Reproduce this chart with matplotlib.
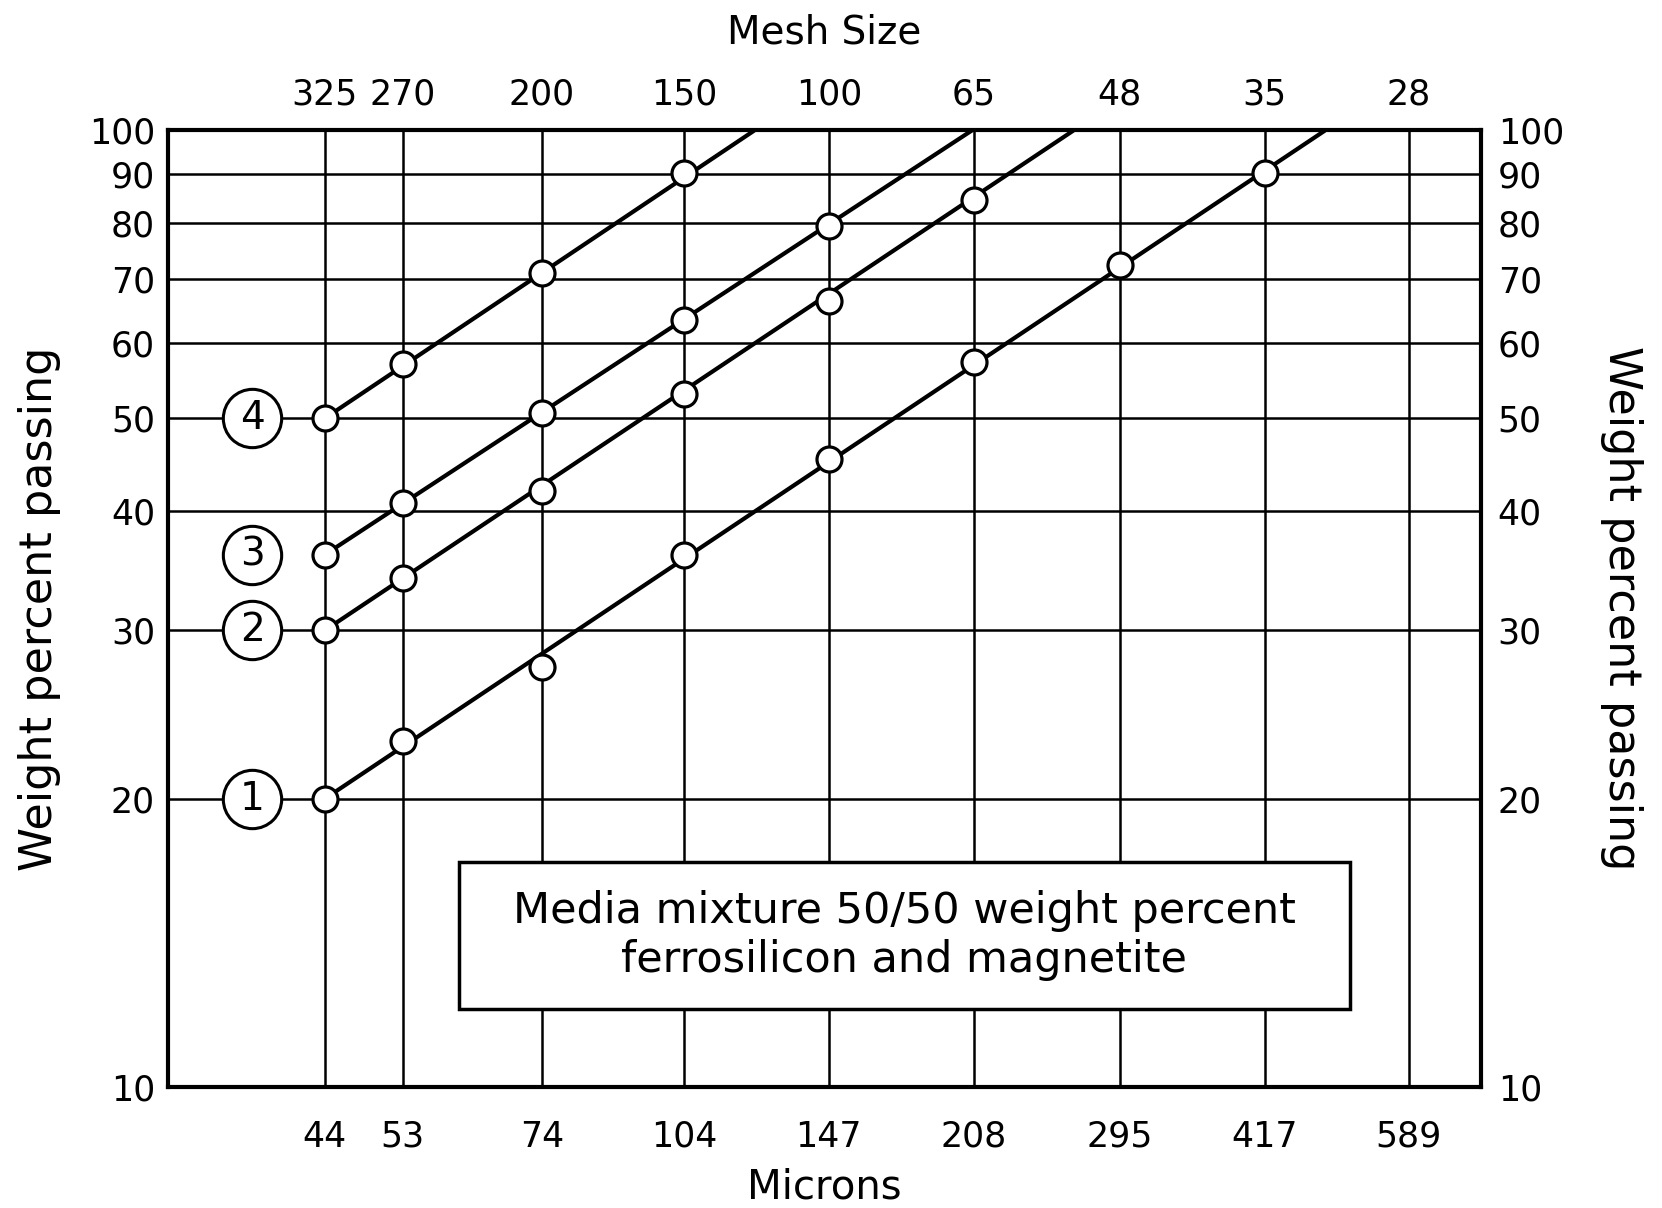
#!/usr/bin/env python3
"""Size distribution of 50/50 ferrosilicon / magnetite media, log-log sieve plot."""
import matplotlib.pyplot as plt
import matplotlib.ticker as mtick
from matplotlib.patches import Rectangle

microns = [44, 53, 74, 104, 147, 208, 295, 417, 589]
mesh = ["325", "270", "200", "150", "100", "65", "48", "35", "28"]
pct_ticks = [10, 20, 30, 40, 50, 60, 70, 80, 90, 100]

# weight percent passing per sample (sieve opening in microns)
s1_x = [44, 53, 74, 104, 147, 208, 295, 417]
s1_y = [20, 23, 27.5, 36, 45.3, 57.3, 72.3, 90.3]
s2_x = [44, 53, 74, 104, 147, 208]
s2_y = [30, 34, 42, 53, 66.3, 84.5]
s3_x = [44, 53, 74, 104, 147]
s3_y = [36, 40.8, 50.7, 63.3, 79.5]
s4_x = [44, 53, 74, 104]
s4_y = [50, 57, 71, 90.3]
samples = ["1", "2", "3", "4"]
# micron value where each hand-drawn line meets 100 %
line_end = [482, 264, 207, 123]

FONT = "DejaVu Sans"
plt.rcParams["font.family"] = FONT
TICK = 25

fig = plt.figure(figsize=(16.62, 12.08), dpi=100)
ax = fig.add_axes([0.1008, 0.1005, 0.7903, 0.7915])

ax.set_xscale("log")
ax.set_yscale("log")
ax.set_xlim(30.2, 700)
ax.set_ylim(10, 100)

ax.set_xticks(microns, [str(m) for m in microns])
ax.set_yticks(pct_ticks, [str(p) for p in pct_ticks])
ax.xaxis.set_minor_locator(mtick.NullLocator())
ax.yaxis.set_minor_locator(mtick.NullLocator())
ax.tick_params(length=0, labelsize=TICK)
ax.tick_params(axis="x", pad=24)
ax.tick_params(axis="y", pad=9)
ax.grid(True, color="black", lw=1.8, zorder=1)
ax.set_axisbelow(True)
for sp in ax.spines.values():
    sp.set_linewidth(3)

xs = [s1_x, s2_x, s3_x, s4_x]
ys = [s1_y, s2_y, s3_y, s4_y]
for x, y, xe, name in zip(xs, ys, line_end, samples):
    ax.plot([x[0], xe], [y[0], 100], color="black", lw=3, zorder=3,
            solid_capstyle="butt")
    ax.plot(x, y, "o", ms=18, mfc="white", mec="black", mew=2.3, zorder=4)
    # circled sample number
    ax.plot(37.0, y[0], "o", ms=42, mfc="white", mec="black", mew=2.2, zorder=5)
    ax.text(37.0, y[0], name, ha="center", va="center", fontsize=28, zorder=6)

ax.set_xlabel("Microns", fontsize=29, labelpad=10)
ax.set_ylabel("Weight percent passing", fontsize=32, labelpad=20)

# mesh size along the top
top = ax.twiny()
top.set_xscale("log")
top.set_xlim(ax.get_xlim())
top.set_xticks(microns, mesh)
top.xaxis.set_minor_locator(mtick.NullLocator())
top.tick_params(length=0, labelsize=TICK, pad=14)
top.set_xlabel("Mesh Size", fontsize=28, labelpad=24)
for sp in top.spines.values():
    sp.set_visible(False)

right = ax.twinx()
right.set_yscale("log")
right.set_ylim(ax.get_ylim())
right.set_yticks(pct_ticks, [str(p) for p in pct_ticks])
right.yaxis.set_minor_locator(mtick.NullLocator())
right.tick_params(length=0, labelsize=TICK, pad=12)
right.set_ylabel("Weight percent passing", fontsize=32, rotation=270, labelpad=57)
for sp in right.spines.values():
    sp.set_visible(False)

ax.add_patch(Rectangle((0.222, 0.081), 0.678, 0.154, transform=ax.transAxes,
                       fc="white", ec="black", lw=2.5, zorder=7))
ax.text(0.561, 0.158, "Media mixture 50/50 weight percent\nferrosilicon and magnetite",
        transform=ax.transAxes, ha="center", va="center", fontsize=31,
        linespacing=1.2, zorder=8)

fig.savefig("out.png", dpi=100)
plt.close(fig)
